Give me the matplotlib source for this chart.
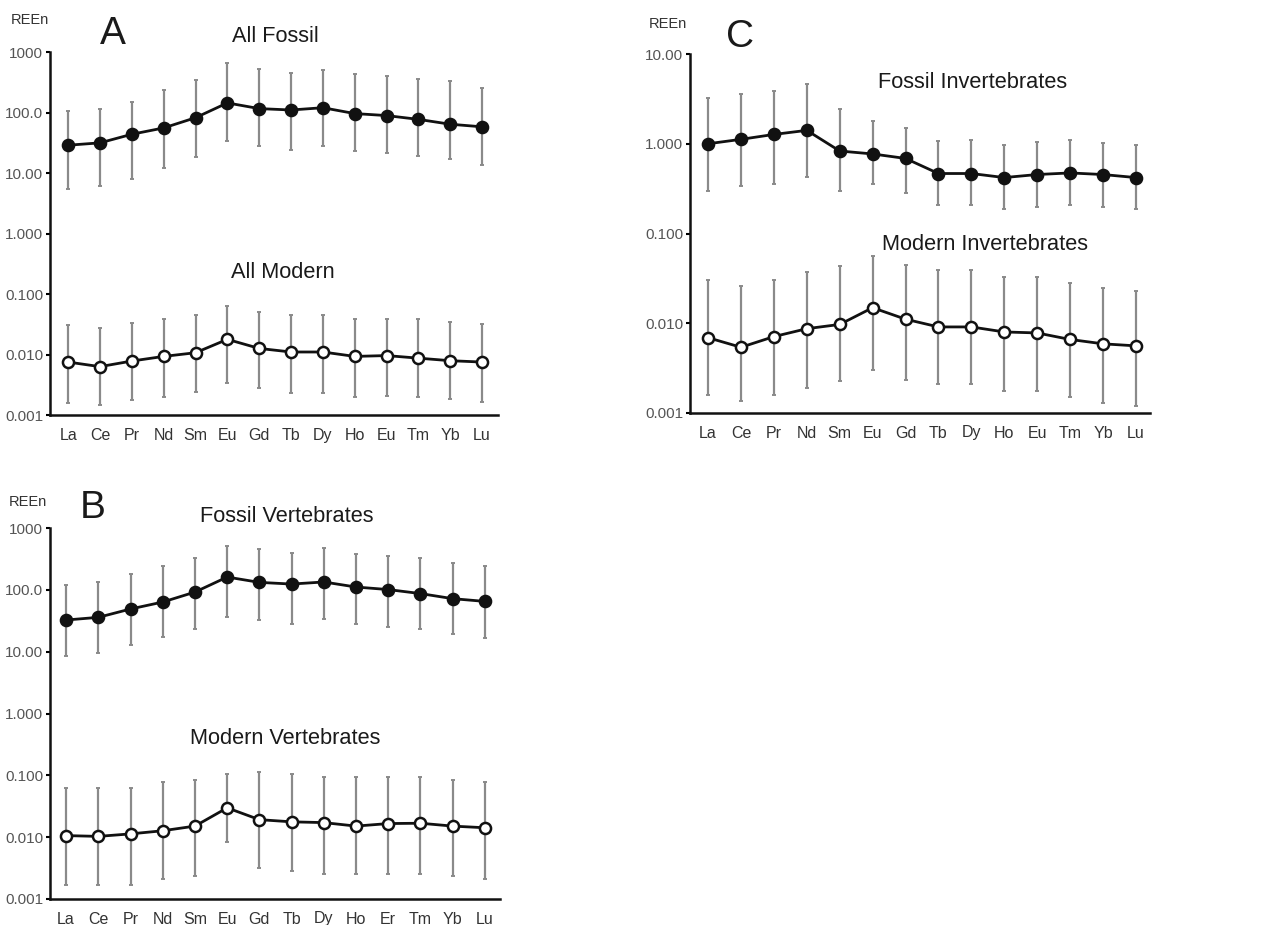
import numpy as np
import matplotlib
matplotlib.use("Agg")
import matplotlib.pyplot as plt
from matplotlib.ticker import FixedLocator, FixedFormatter

plt.rcParams['font.family'] = ['Liberation Sans', 'DejaVu Sans']

# element labels (the original repeats "Eu" in place of "Er" in panels A and C)
elems_a = ["La", "Ce", "Pr", "Nd", "Sm", "Eu", "Gd", "Tb", "Dy", "Ho", "Eu", "Tm", "Yb", "Lu"]
elems_b = ["La", "Ce", "Pr", "Nd", "Sm", "Eu", "Gd", "Tb", "Dy", "Ho", "Er", "Tm", "Yb", "Lu"]
elems_c = ["La", "Ce", "Pr", "Nd", "Sm", "Eu", "Gd", "Tb", "Dy", "Ho", "Eu", "Tm", "Yb", "Lu"]

# panel A - all fossil / all modern (mean, upper, lower)
fossil_a = [28.8, 31.5, 43.7, 55.6, 82, 144, 116, 110, 120, 96, 89, 77, 64, 58]
fossil_a_hi = [105, 114, 149, 233, 349, 650, 531, 456, 511, 439, 402, 363, 332, 251]
fossil_a_lo = [5.5, 6.1, 7.9, 12.2, 18.5, 34, 28, 23.8, 27.7, 23.2, 21.5, 19.2, 17.3, 13.5]
modern_a = [0.0075, 0.0063, 0.0078, 0.0093, 0.0107, 0.0178, 0.0126, 0.011, 0.011, 0.0093, 0.0096, 0.0087, 0.0079, 0.0075]
modern_a_hi = [0.0307, 0.027, 0.0336, 0.0386, 0.0449, 0.063, 0.051, 0.045, 0.045, 0.0386, 0.039, 0.0386, 0.035, 0.0315]
modern_a_lo = [0.0016, 0.00147, 0.00177, 0.002, 0.00237, 0.00334, 0.00276, 0.00234, 0.00234, 0.002, 0.0021, 0.002, 0.00184, 0.00166]

# panel B - vertebrates
fossil_b = [32.5, 35.9, 49, 63.5, 92, 161, 132, 124, 134, 111, 101, 87, 72, 65]
fossil_b_hi = [121, 135, 182, 246, 327, 506, 457, 394, 475, 380, 357, 327, 272, 240]
fossil_b_lo = [8.6, 9.5, 12.8, 17.3, 23.3, 35.9, 32.1, 28.4, 33.7, 28.4, 24.8, 23, 19.5, 16.4]
modern_b = [0.0106, 0.0103, 0.0113, 0.0127, 0.0151, 0.0298, 0.0192, 0.0177, 0.0172, 0.0151, 0.0166, 0.0168, 0.0151, 0.0142]
modern_b_hi = [0.063, 0.063, 0.063, 0.0785, 0.0855, 0.105, 0.113, 0.105, 0.094, 0.094, 0.094, 0.094, 0.0855, 0.0785]
modern_b_lo = [0.0017, 0.0017, 0.0017, 0.0021, 0.00234, 0.0082, 0.00316, 0.00285, 0.00253, 0.00253, 0.00253, 0.00253, 0.00234, 0.0021]

# panel C - invertebrates
fossil_c = [1.0, 1.12, 1.27, 1.41, 0.83, 0.77, 0.686, 0.466, 0.466, 0.42, 0.454, 0.473, 0.454, 0.42]
fossil_c_hi = [3.27, 3.56, 3.92, 4.66, 2.44, 1.78, 1.49, 1.06, 1.09, 0.975, 1.04, 1.11, 1.03, 0.975]
fossil_c_lo = [0.30, 0.336, 0.36, 0.43, 0.30, 0.354, 0.285, 0.206, 0.206, 0.186, 0.197, 0.21, 0.197, 0.186]
modern_c = [0.0069, 0.0054, 0.0071, 0.0087, 0.0097, 0.0149, 0.0111, 0.0091, 0.0091, 0.008, 0.0078, 0.0066, 0.0059, 0.0056]
modern_c_hi = [0.030, 0.0257, 0.030, 0.0369, 0.043, 0.056, 0.0446, 0.039, 0.039, 0.033, 0.033, 0.0283, 0.025, 0.0226]
modern_c_lo = [0.0016, 0.00137, 0.0016, 0.0019, 0.00226, 0.00298, 0.00236, 0.0021, 0.0021, 0.00175, 0.00175, 0.0015, 0.0013, 0.00121]

ticks_big = [0.001, 0.01, 0.1, 1, 10, 100, 1000]
ticklabels_big = ["0.001", "0.010", "0.100", "1.000", "10.00", "100.0", "1000"]
ticks_small = [0.001, 0.01, 0.1, 1, 10]
ticklabels_small = ["0.001", "0.010", "0.100", "1.000", "10.00"]

W, H = 1274, 925
fig = plt.figure(figsize=(W / 100, H / 100), dpi=100)


def px_axes(x0, y0, x1, y1):
    return fig.add_axes([x0 / W, 1 - y1 / H, (x1 - x0) / W, (y1 - y0) / H])


def series(ax, mean, hi, lo, filled):
    x = np.arange(len(mean))
    mean = np.array(mean)
    err = [mean - np.array(lo), np.array(hi) - mean]
    ax.errorbar(x, mean, yerr=err, fmt='none', ecolor='#8a8a8a', elinewidth=1.6,
                capsize=1.6, capthick=1.4, zorder=1)
    ax.plot(x, mean, '-', color='#111111', lw=2.0, zorder=2)
    ax.plot(x, mean, 'o', ms=8, mec='#111111', mew=1.8,
            mfc='#111111' if filled else 'white', zorder=3)


def style(ax, labels, ticks, ticklabels, ylim, xlim):
    ax.set_yscale('log')
    ax.set_ylim(*ylim)
    ax.set_xlim(*xlim)
    ax.yaxis.set_major_locator(FixedLocator(ticks))
    ax.yaxis.set_major_formatter(FixedFormatter(ticklabels))
    ax.yaxis.set_minor_locator(FixedLocator([]))
    ax.set_xticks(np.arange(len(labels)))
    ax.set_xticklabels(labels)
    for s in ['top', 'right']:
        ax.spines[s].set_visible(False)
    for s in ['left', 'bottom']:
        ax.spines[s].set_linewidth(1.8)
        ax.spines[s].set_color('#111111')
    ax.tick_params(axis='y', length=3, width=1.5, pad=2, labelsize=11, labelcolor='#555555')
    ax.tick_params(axis='x', length=0, pad=9, labelsize=11.5, labelcolor='#333333')


# panel A
axA = px_axes(50, 52, 498, 415)
series(axA, fossil_a, fossil_a_hi, fossil_a_lo, True)
series(axA, modern_a, modern_a_hi, modern_a_lo, False)
style(axA, elems_a, ticks_big, ticklabels_big, (0.001, 1000), (-0.57, 13.5))

# panel B
axB = px_axes(50, 528, 500, 899)
series(axB, fossil_b, fossil_b_hi, fossil_b_lo, True)
series(axB, modern_b, modern_b_hi, modern_b_lo, False)
style(axB, elems_b, ticks_big, ticklabels_big, (0.001, 1000), (-0.5, 13.47))

# panel C
axC = px_axes(690, 54, 1150, 413)
series(axC, fossil_c, fossil_c_hi, fossil_c_lo, True)
series(axC, modern_c, modern_c_hi, modern_c_lo, False)
style(axC, elems_c, ticks_small, ticklabels_small, (0.001, 10), (-0.55, 13.43))


def ftext(x, y, s, size, color='#1a1a1a'):
    fig.text(x / W, 1 - y / H, s, ha='center', va='center', fontsize=size, color=color)


# panel letters, REEn labels and series captions
ftext(30, 20, "REEn", 10.5, '#333333')
ftext(113, 34, "A", 28)
ftext(275, 37, "All Fossil", 15.7)
ftext(283, 273, "All Modern", 15.7)

ftext(28, 502, "REEn", 10.5, '#333333')
ftext(93, 508, "B", 28)
ftext(287, 517, "Fossil Vertebrates", 15.7)
ftext(285, 738, "Modern Vertebrates", 15.7)

ftext(668, 24, "REEn", 10.5, '#333333')
ftext(740, 37, "C", 28)
ftext(973, 82, "Fossil Invertebrates", 15.7)
ftext(985, 245, "Modern Invertebrates", 15.7)

fig.savefig("out.png", dpi=100)
